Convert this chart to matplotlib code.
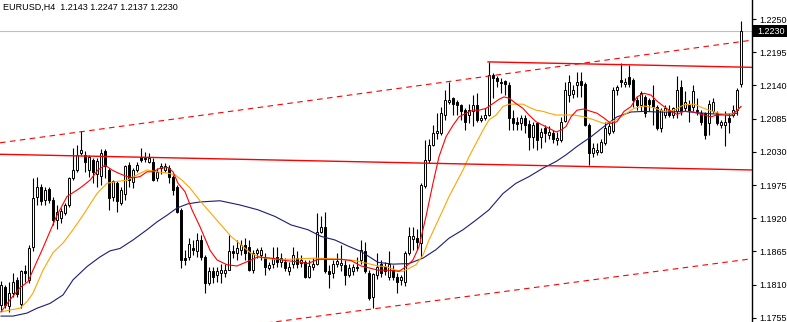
import matplotlib
matplotlib.use('Agg')
import matplotlib.pyplot as plt
import matplotlib.transforms as mtransforms
from matplotlib.patches import Rectangle
import numpy as np

plt.rcParams['font.family'] = ['Liberation Sans', 'DejaVu Sans']

symbol = 'EURUSD,H4'

# OHLC of the visible H4 bars (oldest first)
opens = [
    1.1776, 1.1806, 1.1774, 1.1796, 1.1817, 1.1778, 1.1833, 1.1818, 1.1873, 1.1956,
    1.1972, 1.1950, 1.1968, 1.1950, 1.1917, 1.1920, 1.1928, 1.1942, 1.1987, 1.2000,
    1.2028, 1.2025, 1.2000, 1.2017, 1.1994, 1.1990, 1.2031, 1.2000, 1.1956, 1.1978,
    1.1945, 1.1960, 1.2009, 1.1980, 1.2000, 1.2021, 1.2020, 1.2014, 1.2014, 1.1986,
    1.2003, 1.2000, 1.2003, 1.1989, 1.1972, 1.1934, 1.1854, 1.1856, 1.1871, 1.1866,
    1.1884, 1.1856, 1.1812, 1.1832, 1.1826, 1.1829, 1.1829, 1.1835, 1.1865, 1.1862,
    1.1867, 1.1876, 1.1873, 1.1834, 1.1862, 1.1859, 1.1854, 1.1837, 1.1844, 1.1856,
    1.1848, 1.1848, 1.1833, 1.1845, 1.1854, 1.1846, 1.1848, 1.1823, 1.1840, 1.1845,
    1.1898, 1.1906, 1.1832, 1.1829, 1.1845, 1.1843, 1.1843, 1.1826, 1.1832, 1.1840,
    1.1851, 1.1866, 1.1830, 1.1790, 1.1826, 1.1845, 1.1840, 1.1823, 1.1834, 1.1823,
    1.1817, 1.1815, 1.1862, 1.1886, 1.1887, 1.1879, 1.1973, 1.2017, 1.2041, 1.2062,
    1.2061, 1.2091, 1.2113, 1.2119, 1.2113, 1.2108, 1.2099, 1.2091, 1.2097, 1.2108,
    1.2082, 1.2086, 1.2091, 1.2157, 1.2152, 1.2146, 1.2148, 1.2141, 1.2086, 1.2079,
    1.2077, 1.2086, 1.2076, 1.2054, 1.2077, 1.2054, 1.2069, 1.2058, 1.2061, 1.2050,
    1.2050, 1.2081, 1.2124, 1.2126, 1.2141, 1.2147, 1.2143, 1.2074, 1.2028, 1.2030,
    1.2030, 1.2044, 1.2061, 1.2064, 1.2132, 1.2149, 1.2143, 1.2154, 1.2149, 1.2116,
    1.2108, 1.2121, 1.2116, 1.2116, 1.2105, 1.2069, 1.2091, 1.2099, 1.2091, 1.2097,
    1.2138, 1.2102, 1.2108, 1.2105, 1.2099, 1.2094, 1.2094, 1.2078, 1.2097, 1.2094,
    1.2074, 1.2074, 1.2086, 1.2091, 1.2099, 1.2143,
]
highs = [
    1.1816, 1.1810, 1.1815, 1.1829, 1.1823, 1.1834, 1.1843, 1.1875, 1.1986, 1.1988,
    1.1977, 1.1972, 1.1972, 1.1956, 1.1942, 1.1937, 1.1945, 1.1989, 1.2036, 1.2041,
    1.2064, 1.2031, 1.2025, 1.2019, 1.2019, 1.2035, 1.2035, 1.2003, 1.1983, 1.1981,
    1.1972, 1.2008, 1.2014, 1.2003, 1.2014, 1.2036, 1.2030, 1.2028, 1.2019, 1.2003,
    1.2011, 1.2011, 1.2008, 1.1992, 1.1975, 1.1937, 1.1868, 1.1887, 1.1884, 1.1895,
    1.1892, 1.1859, 1.1840, 1.1840, 1.1840, 1.1845, 1.1845, 1.1892, 1.1876, 1.1884,
    1.1884, 1.1887, 1.1884, 1.1867, 1.1870, 1.1873, 1.1862, 1.1848, 1.1873, 1.1873,
    1.1862, 1.1854, 1.1848, 1.1873, 1.1865, 1.1859, 1.1851, 1.1851, 1.1854, 1.1928,
    1.1923, 1.1931, 1.1843, 1.1851, 1.1862, 1.1876, 1.1851, 1.1845, 1.1845, 1.1856,
    1.1884, 1.1881, 1.1834, 1.1830, 1.1862, 1.1851, 1.1848, 1.1865, 1.1843, 1.1829,
    1.1826, 1.1865, 1.1906, 1.1906, 1.1903, 1.1978, 1.2050, 1.2052, 1.2074, 1.2094,
    1.2105, 1.2132, 1.2146, 1.2121, 1.2116, 1.2110, 1.2102, 1.2110, 1.2124, 1.2127,
    1.2091, 1.2102, 1.2179, 1.2160, 1.2155, 1.2152, 1.2149, 1.2146, 1.2099, 1.2088,
    1.2091, 1.2091, 1.2083, 1.2080, 1.2080, 1.2069, 1.2075, 1.2072, 1.2066, 1.2063,
    1.2088, 1.2146, 1.2157, 1.2141, 1.2163, 1.2163, 1.2146, 1.2077, 1.2044, 1.2044,
    1.2052, 1.2080, 1.2077, 1.2138, 1.2141, 1.2177, 1.2152, 1.2174, 1.2152, 1.2121,
    1.2130, 1.2124, 1.2119, 1.2141, 1.2108, 1.2102, 1.2108, 1.2108, 1.2105, 1.2155,
    1.2149, 1.2130, 1.2116, 1.2141, 1.2119, 1.2099, 1.2096, 1.2116, 1.2119, 1.2097,
    1.2083, 1.2097, 1.2094, 1.2108, 1.2135, 1.2247,
]
lows = [
    1.1768, 1.1772, 1.1765, 1.1790, 1.1790, 1.1772, 1.1815, 1.1812, 1.1865, 1.1942,
    1.1942, 1.1942, 1.1945, 1.1909, 1.1903, 1.1912, 1.1926, 1.1939, 1.1983, 1.1997,
    1.2025, 1.1997, 1.1989, 1.1978, 1.1972, 1.1975, 1.1986, 1.1934, 1.1948, 1.1931,
    1.1942, 1.1950, 1.1972, 1.1970, 1.1997, 1.2014, 1.2014, 1.2011, 1.1981, 1.1981,
    1.1994, 1.1997, 1.1978, 1.1959, 1.1928, 1.1837, 1.1843, 1.1851, 1.1859, 1.1856,
    1.1851, 1.1797, 1.1809, 1.1812, 1.1815, 1.1812, 1.1823, 1.1834, 1.1854, 1.1851,
    1.1859, 1.1851, 1.1832, 1.1829, 1.1854, 1.1851, 1.1826, 1.1834, 1.1837, 1.1840,
    1.1840, 1.1832, 1.1826, 1.1837, 1.1837, 1.1840, 1.1821, 1.1821, 1.1834, 1.1843,
    1.1895, 1.1829, 1.1804, 1.1821, 1.1840, 1.1832, 1.1809, 1.1823, 1.1826, 1.1832,
    1.1845, 1.1829, 1.1785, 1.1771, 1.1820, 1.1823, 1.1826, 1.1818, 1.1818, 1.1796,
    1.1810, 1.1807, 1.1859, 1.1868, 1.1868, 1.1856, 1.1970, 1.2011, 1.2039, 1.2052,
    1.2058, 1.2083, 1.2110, 1.2091, 1.2091, 1.2083, 1.2066, 1.2077, 1.2072, 1.2080,
    1.2080, 1.2083, 1.2089, 1.2119, 1.2138, 1.2127, 1.2124, 1.2066, 1.2066, 1.2066,
    1.2066, 1.2061, 1.2033, 1.2036, 1.2033, 1.2036, 1.2047, 1.2052, 1.2044, 1.2041,
    1.2047, 1.2079, 1.2113, 1.2119, 1.2121, 1.2121, 1.2072, 1.2008, 1.2022, 1.2025,
    1.2028, 1.2041, 1.2058, 1.2061, 1.2124, 1.2138, 1.2138, 1.2138, 1.2105, 1.2099,
    1.2097, 1.2088, 1.2097, 1.2074, 1.2066, 1.2063, 1.2086, 1.2088, 1.2086, 1.2086,
    1.2091, 1.2097, 1.2080, 1.2097, 1.2091, 1.2074, 1.2052, 1.2058, 1.2094, 1.2074,
    1.2069, 1.2039, 1.2061, 1.2088, 1.2091, 1.2137,
]
closes = [
    1.1810, 1.1776, 1.1796, 1.1815, 1.1795, 1.1833, 1.1829, 1.1871, 1.1954, 1.1972,
    1.1948, 1.1967, 1.1950, 1.1917, 1.1930, 1.1932, 1.1942, 1.1986, 1.2000, 1.2025,
    1.2033, 1.2014, 1.2022, 1.1997, 1.2015, 1.2028, 1.2006, 1.1953, 1.1981, 1.1948,
    1.1967, 1.2006, 1.1983, 1.2000, 1.2008, 1.2017, 1.2018, 1.2019, 1.1983, 1.1997,
    1.2006, 1.2006, 1.1989, 1.1967, 1.1931, 1.1851, 1.1851, 1.1878, 1.1867, 1.1884,
    1.1856, 1.1813, 1.1832, 1.1823, 1.1832, 1.1834, 1.1835, 1.1866, 1.1862, 1.1870,
    1.1876, 1.1862, 1.1834, 1.1862, 1.1867, 1.1867, 1.1840, 1.1843, 1.1854, 1.1848,
    1.1854, 1.1837, 1.1840, 1.1859, 1.1845, 1.1851, 1.1823, 1.1841, 1.1845, 1.1898,
    1.1905, 1.1832, 1.1828, 1.1845, 1.1850, 1.1846, 1.1826, 1.1837, 1.1839, 1.1837,
    1.1867, 1.1832, 1.1788, 1.1828, 1.1840, 1.1829, 1.1832, 1.1845, 1.1823, 1.1815,
    1.1822, 1.1862, 1.1890, 1.1890, 1.1880, 1.1975, 1.2017, 1.2041, 1.2061, 1.2065,
    1.2094, 1.2116, 1.2116, 1.2110, 1.2108, 1.2097, 1.2080, 1.2099, 1.2108, 1.2083,
    1.2086, 1.2091, 1.2157, 1.2152, 1.2148, 1.2144, 1.2142, 1.2086, 1.2077, 1.2076,
    1.2086, 1.2075, 1.2055, 1.2075, 1.2050, 1.2063, 1.2061, 1.2063, 1.2051, 1.2053,
    1.2080, 1.2132, 1.2146, 1.2132, 1.2146, 1.2141, 1.2074, 1.2028, 1.2036, 1.2033,
    1.2047, 1.2069, 1.2072, 1.2132, 1.2138, 1.2146, 1.2146, 1.2143, 1.2116, 1.2108,
    1.2127, 1.2094, 1.2109, 1.2105, 1.2069, 1.2099, 1.2102, 1.2091, 1.2102, 1.2132,
    1.2097, 1.2113, 1.2097, 1.2130, 1.2097, 1.2080, 1.2058, 1.2110, 1.2113, 1.2077,
    1.2080, 1.2080, 1.2080, 1.2099, 1.2132, 1.2230,
]

# moving averages, sampled along the bars (bar position, price)
fast_pos = [0, 2.25, 4.75, 6.75, 8, 10.5, 12.75, 14, 16.5, 19.75, 22.25, 24.25, 26, 27.75,
            29.25, 31.5, 33, 34.75, 36.5, 38, 39.75, 41.75, 43, 44.25, 46, 47.75, 49.75,
            52.25, 54, 56.5, 59, 61.5, 64.25, 67.5, 71, 74.25, 76.75, 79.25, 81.75, 85,
            87.5, 90, 92.5, 94.25, 97, 99.5, 101.25, 103, 104.5, 106.25, 108, 109.5,
            111.25, 113, 114.5, 116.25, 118, 119.5, 121.25, 123, 124.5, 125.75, 127,
            128.75, 130.5, 132, 133.75, 135.5, 137, 138.75, 140, 141.25, 142.5, 144,
            145.75, 147.5, 149, 150.75, 152.5, 154, 155.75, 157.5, 159, 160.75, 162.5,
            164, 165.75, 167.5, 169, 170.75, 172.5, 174, 175.75, 177.5, 179, 180.75,
            182.5, 183.75, 185]
fast_ma = [1.1765, 1.1785, 1.1805, 1.1815, 1.1834, 1.1871, 1.1906, 1.1925, 1.1956, 1.1970,
           1.1983, 1.2000, 1.2008, 1.2000, 1.1995, 1.1989, 1.1987, 1.1989, 1.1997, 1.1997,
           1.2003, 1.2004, 1.1997, 1.1978, 1.1964, 1.1934, 1.1906, 1.1867, 1.1851, 1.1843,
           1.1841, 1.1848, 1.1856, 1.1854, 1.1850, 1.1848, 1.1845, 1.1852, 1.1852, 1.1852,
           1.1850, 1.1841, 1.1837, 1.1834, 1.1834, 1.1832, 1.1840, 1.1851, 1.1873, 1.1923,
           1.1978, 1.2022, 1.2055, 1.2074, 1.2088, 1.2094, 1.2099, 1.2099, 1.2102, 1.2110,
           1.2117, 1.2121, 1.2119, 1.2110, 1.2102, 1.2091, 1.2080, 1.2074, 1.2069, 1.2063,
           1.2066, 1.2072, 1.2088, 1.2099, 1.2101, 1.2097, 1.2094, 1.2086, 1.2077, 1.2080,
           1.2097, 1.2105, 1.2121, 1.2127, 1.2124, 1.2114, 1.2105, 1.2097, 1.2092, 1.2097,
           1.2097, 1.2094, 1.2091, 1.2088, 1.2091, 1.2091, 1.2090, 1.2097, 1.2105]

mid_pos = [0, 2.25, 4.75, 6.5, 8, 10.5, 13, 15.5, 18, 20.5, 24, 26.5, 29, 31.5, 34, 36.5,
           39, 41.5, 43.5, 45.25, 47.25, 50, 52.5, 55, 57.5, 60, 62.5, 65, 68.5, 71.75, 75,
           78.5, 81.75, 85, 88.5, 91.75, 94.25, 96.25, 98.75, 100.5, 102, 103.75, 105.5,
           107, 108.75, 110.5, 112, 113.75, 115.5, 117, 118.75, 120.5, 122, 123.75, 125.5,
           127, 128.75, 130.5, 132, 133.75, 135.5, 137, 138.75, 141.25, 143.25, 145.75,
           148.25, 150.75, 153.25, 155.75, 158.25, 160.75, 163.25, 165.75, 168.25, 170.75,
           173.25, 175.75, 178.25, 180.75, 183.25, 185]
mid_ma = [1.1765, 1.1768, 1.1771, 1.1782, 1.1796, 1.1834, 1.1863, 1.1879, 1.1901, 1.1925,
          1.1961, 1.1978, 1.1981, 1.1983, 1.1992, 1.2000, 1.1997, 1.1995, 1.1992, 1.1983,
          1.1970, 1.1947, 1.1928, 1.1909, 1.1890, 1.1876, 1.1862, 1.1855, 1.1852, 1.1852,
          1.1853, 1.1854, 1.1853, 1.1852, 1.1850, 1.1845, 1.1841, 1.1840, 1.1834, 1.1832,
          1.1837, 1.1843, 1.1859, 1.1884, 1.1909, 1.1934, 1.1956, 1.1978, 1.2000, 1.2022,
          1.2044, 1.2066, 1.2083, 1.2091, 1.2105, 1.2109, 1.2109, 1.2109, 1.2104, 1.2099,
          1.2097, 1.2094, 1.2091, 1.2091, 1.2091, 1.2088, 1.2083, 1.2077, 1.2081, 1.2091,
          1.2102, 1.2106, 1.2103, 1.2097, 1.2099, 1.2108, 1.2109, 1.2102, 1.2096, 1.2092,
          1.2094, 1.2105]

slow_pos = [0, 3, 6.5, 9, 12.25, 15.5, 18, 21.5, 24.75, 27.25, 29.75, 33, 36.5, 39, 41.5,
            44, 46.75, 49.75, 54.75, 59.75, 64.25, 68.5, 72.5, 76.75, 80, 83.5, 86.75, 90,
            94.25, 98, 102, 105.5, 108.75, 112, 115.5, 118.75, 122, 125.5, 128.75, 132,
            135.5, 138.75, 141.25, 144, 147.5, 150.75, 154, 157.5, 160.75, 164, 167.5,
            170.75, 174, 177.5, 180.75, 184]
slow_ma = [1.1758, 1.1758, 1.1763, 1.1771, 1.1779, 1.1793, 1.1818, 1.1840, 1.1856, 1.1866,
           1.1870, 1.1884, 1.1901, 1.1914, 1.1925, 1.1937, 1.1944, 1.1947, 1.1949, 1.1942,
           1.1934, 1.1923, 1.1909, 1.1901, 1.1890, 1.1884, 1.1874, 1.1865, 1.1847, 1.1844,
           1.1845, 1.1854, 1.1868, 1.1887, 1.1901, 1.1917, 1.1934, 1.1961, 1.1978, 1.1989,
           1.2003, 1.2014, 1.2025, 1.2039, 1.2055, 1.2072, 1.2088, 1.2096, 1.2097, 1.2096,
           1.2096, 1.2097, 1.2095, 1.2093, 1.2092, 1.2094]

# drawn objects: equidistant channel (solid) and trend channel (dashed)
chan_low_pos, chan_low_val = [-0.25, 187.75], [1.2026, 1.2000]
chan_high_pos, chan_high_val = [121.75, 187.75], [1.2179, 1.2170]
trend_high_pos, trend_high_val = [-0.25, 187.75], [1.2045, 1.2215]
trend_low_pos, trend_low_val = [60, 187.75], [1.1741, 1.1853]

price_ticks = [1.2250, 1.2195, 1.2140, 1.2085, 1.2030, 1.1975, 1.1920, 1.1865, 1.1810, 1.1755]
bid = closes[-1]

fig = plt.figure(figsize=(7.87, 3.22), dpi=100)
fig.patch.set_facecolor('white')
ax = fig.add_axes([0, 0, 752 / 787, 1])

o = np.array(opens)
h = np.array(highs)
l = np.array(lows)
c = np.array(closes)
pos = np.arange(len(o))
bull = c >= o

# bid line
ax.axhline(bid, color='#c0c0c0', linewidth=0.8, zorder=1)

# candles
ax.vlines(pos, l, h, color='black', linewidth=0.8, zorder=2)
ax.bar(pos, np.abs(c - o), bottom=np.minimum(o, c), width=0.5,
       color=np.where(bull, 'white', 'black'), edgecolor='black',
       linewidth=0.7, zorder=3)

# indicators
ax.plot(slow_pos, slow_ma, color='#1c1c78', linewidth=0.8, zorder=4)
ax.plot(mid_pos, mid_ma, color='#ffa500', linewidth=0.8, zorder=4)
ax.plot(fast_pos, fast_ma, color='#ff0000', linewidth=0.8, zorder=4)

# channels
ax.plot(chan_low_pos, chan_low_val, color='#ff0000', linewidth=1.0, zorder=5)
ax.plot(chan_high_pos, chan_high_val, color='#ff0000', linewidth=1.0, zorder=5)
ax.plot(trend_high_pos, trend_high_val, color='#ff0000', linewidth=0.8,
        linestyle=(0, (5, 4)), zorder=5)
ax.plot(trend_low_pos, trend_low_val, color='#ff0000', linewidth=0.8,
        linestyle=(0, (5, 4)), zorder=5)

ax.set_xlim(-0.25, 187.75)
ax.set_ylim(1.17482, 1.22815)

for side in ['left', 'top', 'bottom']:
    ax.spines[side].set_visible(False)
ax.spines['right'].set_color('black')
ax.spines['right'].set_linewidth(1.0)

ax.set_xticks([])
ax.yaxis.tick_right()
ax.set_yticks(price_ticks)
ax.set_yticklabels(['%.4f' % p for p in price_ticks], fontsize=6.5)
ax.tick_params(axis='y', direction='out', length=3, width=0.8, pad=2, colors='black')

# current price tag on the scale: black box up to the right edge, white text
trans = mtransforms.blended_transform_factory(ax.transAxes, ax.transData)
tag_h = 0.0019
ax.add_patch(Rectangle((1.0015, bid - tag_h / 2), 35 / 752, tag_h, transform=trans,
                       facecolor='black', edgecolor='none', clip_on=False, zorder=6))
ax.annotate('%.4f' % bid, xy=(1.0, bid), xycoords=trans, xytext=(3.6, 0),
            textcoords='offset points', fontsize=6.5, color='white',
            va='center', ha='left', annotation_clip=False, zorder=7)

fig.text(3 / 787, 1 - 7 / 322,
         '%s  %.4f %.4f %.4f %.4f' % (symbol, opens[-1], highs[-1], lows[-1], closes[-1]),
         fontsize=6.5, va='center', ha='left', color='black')

fig.savefig('out.png', dpi=100, facecolor='white')
